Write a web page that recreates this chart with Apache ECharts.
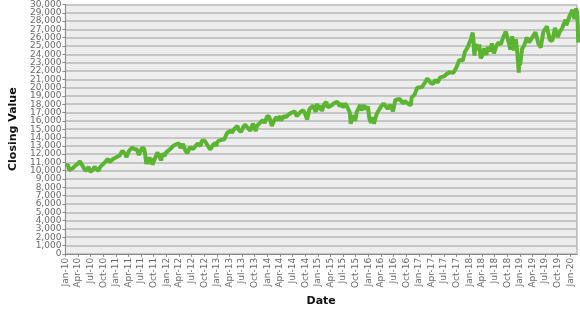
<!DOCTYPE html>
<html><head><meta charset="utf-8">
<script src="https://cdn.jsdelivr.net/npm/echarts@6/dist/echarts.min.js"></script>
<style>html,body{margin:0;padding:0;background:#fff}#c{width:580px;height:312px}</style>
</head><body><div id="c"></div>
<script>
var dates = [
"2010-01-04","2010-01-19","2010-01-29","2010-02-08","2010-02-25","2010-03-15","2010-03-31","2010-04-15","2010-04-26","2010-05-06","2010-05-07","2010-05-14","2010-05-25","2010-06-04","2010-06-18","2010-06-29","2010-07-02","2010-07-16","2010-07-30","2010-08-09","2010-08-26","2010-09-10","2010-09-30","2010-10-15","2010-10-29","2010-11-05","2010-11-16","2010-11-30","2010-12-15","2010-12-31",
"2011-01-14","2011-01-28","2011-02-18","2011-03-10","2011-03-16","2011-04-06","2011-04-18","2011-04-29","2011-05-13","2011-05-31","2011-06-15","2011-06-24","2011-07-07","2011-07-22","2011-07-29","2011-08-08","2011-08-10","2011-08-16","2011-08-19","2011-08-31","2011-09-12","2011-09-16","2011-09-22","2011-10-03","2011-10-14","2011-10-27","2011-11-08","2011-11-25","2011-11-30","2011-12-19","2011-12-30",
"2012-01-13","2012-01-31","2012-02-17","2012-02-29","2012-03-16","2012-04-02","2012-04-10","2012-04-30","2012-05-18","2012-06-01","2012-06-19","2012-06-28","2012-07-12","2012-07-31","2012-08-17","2012-09-04","2012-09-14","2012-10-05","2012-10-23","2012-11-15","2012-11-30","2012-12-18","2012-12-28",
"2013-01-02","2013-01-18","2013-01-31","2013-02-25","2013-03-14","2013-03-28","2013-04-11","2013-04-18","2013-05-03","2013-05-28","2013-06-05","2013-06-14","2013-06-24","2013-07-10","2013-07-22","2013-08-02","2013-08-30","2013-09-18","2013-10-08","2013-10-18","2013-11-08","2013-11-29","2013-12-12","2013-12-31",
"2014-01-15","2014-02-03","2014-02-21","2014-03-07","2014-03-14","2014-04-02","2014-04-11","2014-04-30","2014-05-15","2014-05-30","2014-06-20","2014-07-16","2014-07-31","2014-08-07","2014-08-29","2014-09-19","2014-10-01","2014-10-15","2014-10-31","2014-11-28","2014-12-16","2014-12-26",
"2015-01-06","2015-01-22","2015-01-30","2015-02-17","2015-03-02","2015-03-11","2015-03-31","2015-04-24","2015-05-19","2015-06-08","2015-06-22","2015-06-29","2015-07-17","2015-07-31","2015-08-14","2015-08-20","2015-08-25","2015-09-17","2015-09-28","2015-10-09","2015-11-03","2015-11-13","2015-12-01","2015-12-14","2015-12-29",
"2016-01-08","2016-01-20","2016-02-01","2016-02-11","2016-03-01","2016-03-31","2016-04-20","2016-05-19","2016-06-08","2016-06-27","2016-07-14","2016-08-15","2016-09-09","2016-09-22","2016-10-13","2016-11-04","2016-11-10","2016-11-30","2016-12-20","2016-12-30",
"2017-01-25","2017-02-15","2017-03-01","2017-03-27","2017-04-13","2017-04-28","2017-05-17","2017-06-02","2017-06-30","2017-07-26","2017-08-10","2017-08-18","2017-09-08","2017-09-29","2017-10-20","2017-11-15","2017-11-30","2017-12-18","2017-12-29",
"2018-01-12","2018-01-26","2018-02-02","2018-02-05","2018-02-08","2018-02-16","2018-02-27","2018-03-02","2018-03-12","2018-03-23","2018-04-02","2018-04-06","2018-04-18","2018-05-03","2018-05-14","2018-05-29","2018-06-12","2018-06-27","2018-07-17","2018-07-31","2018-08-15","2018-08-31","2018-09-21","2018-10-03","2018-10-10","2018-10-24","2018-10-29","2018-11-07","2018-11-20","2018-11-23","2018-12-03","2018-12-14","2018-12-24","2018-12-26","2018-12-31",
"2019-01-03","2019-01-18","2019-01-31","2019-02-22","2019-03-08","2019-03-22","2019-04-23","2019-05-13","2019-05-31","2019-06-20","2019-07-15","2019-08-05","2019-08-14","2019-08-23","2019-09-12","2019-10-02","2019-10-18","2019-10-31","2019-11-27","2019-12-03","2019-12-27",
"2020-01-03","2020-01-17","2020-01-31","2020-02-12","2020-02-21","2020-02-24","2020-02-28"
];
var closes = [
10584,10725,10067,9908,10321,10642,10857,11144,11205,10520,10380,10620,9975,9931,10450,9870,9686,10097,10466,10698,9985,10462,10788,11062,11118,11444,11023,11006,11457,11578,
11787,11824,12391,11984,11613,12426,12201,12810,12596,12570,11897,11934,12719,12681,12143,10810,10719,11405,10817,11614,11061,11509,10733,10655,11644,12208,12170,11231,12045,11766,12218,
12422,12633,12950,12952,13232,13264,12716,13214,12369,12118,12837,12602,12605,13009,13276,12967,13593,13610,13103,12542,13026,13350,12938,
13412,13649,13861,13784,14539,14579,14865,14537,14974,15409,14960,15070,14660,15291,15545,15658,14810,15677,14776,15399,15761,16086,15739,16577,
16481,15373,16104,16452,16065,16573,16027,16581,16447,16717,16948,17138,16563,16368,17098,17280,16805,16142,17391,17828,17068,18053,
17371,17813,17165,18047,18288,17635,17776,18080,18312,17766,18119,17596,18086,17690,17477,16990,15666,16675,16001,17084,17918,17245,17888,17368,17720,
16346,15766,16449,15660,16865,17685,18096,17435,17938,17140,18506,18636,18085,18392,18098,17888,18807,19124,19975,19763,
20069,20611,21115,20550,20453,20941,20607,21206,21350,21711,21844,21675,21798,22405,23329,23271,24272,24792,24719,
25803,26617,25521,24346,23860,25219,25410,24538,25179,23533,23644,23933,24748,23930,24900,24362,25320,24117,25120,25415,25162,25965,26744,26828,25598,24583,24443,26180,24465,24286,25826,24100,21792,22878,23327,
22686,24706,24999,26031,25450,25502,26656,25324,24815,26753,27359,25718,25479,25628,27182,26078,26770,27046,28164,27503,28645,
28635,29348,28256,29551,28992,27961,25409
];
var monthNames = ["Jan","Feb","Mar","Apr","May","Jun","Jul","Aug","Sep","Oct","Nov","Dec"];
var startYear = 2010;
var yMin = 0, yMax = 30000, yStep = 1000;

function toMonths(s){
  var p = s.split("-");
  return (parseInt(p[0],10)-startYear)*12 + (parseInt(p[1],10)-1) + (parseInt(p[2],10)-1)/30.5;
}
var seriesData = dates.map(function(d,i){ return [toMonths(d), closes[i]]; });

function fmt(v){ return v.toLocaleString('en-US'); }
function isNearEnd(v){ return v === yMin + yStep || v === yMax - yStep; }

var chart = echarts.init(document.getElementById('c'), null, {renderer:'canvas'});
var font = 'DejaVu Sans';
var yLabelBase = {margin:4,fontFamily:font,fontSize:9,color:'#6a6a6a',hideOverlap:false};
chart.setOption({
  animation:false,
  grid:{left:57,right:3,top:4,bottom:47,show:true,backgroundColor:'#ededed',borderColor:'#9a9a9a',borderWidth:1},
  xAxis:{
    type:'value',min:0,max:121.6,interval:3,
    name:'Date',nameLocation:'middle',nameGap:38,
    nameTextStyle:{fontFamily:font,fontWeight:'bold',fontSize:11,color:'#111'},
    axisLine:{show:true,lineStyle:{color:'#888',width:1}},
    axisTick:{show:true,length:3,lineStyle:{color:'#888'}},
    splitLine:{show:false},
    axisLabel:{rotate:90,margin:4,fontFamily:font,fontSize:9,color:'#6a6a6a',showMinLabel:true,showMaxLabel:false,hideOverlap:false,
      formatter:function(v){ var m=Math.round(v); var y=startYear+Math.floor(m/12); return monthNames[m%12]+'-'+String(y).slice(2); }}
  },
  yAxis:[{
    type:'value',min:yMin,max:yMax,interval:yStep,position:'left',
    name:'Closing Value',nameLocation:'middle',nameGap:42,
    nameTextStyle:{fontFamily:font,fontWeight:'bold',fontSize:11,color:'#111'},
    axisLine:{show:true,lineStyle:{color:'#888',width:1}},
    axisTick:{show:true,length:3,lineStyle:{color:'#888'}},
    splitLine:{show:true,lineStyle:{color:'#c6c6c6',width:2}},
    axisLabel:Object.assign({showMinLabel:true,showMaxLabel:true,
      formatter:function(v){ return isNearEnd(v) ? '' : fmt(v); }}, yLabelBase)
  },{
    type:'value',min:yMin,max:yMax,interval:yStep,position:'left',offset:0,
    axisLine:{show:false},axisTick:{show:false},splitLine:{show:false},
    axisLabel:Object.assign({showMinLabel:true,showMaxLabel:true,
      formatter:function(v){ return isNearEnd(v) ? fmt(v) : ''; }}, yLabelBase)
  }],
  series:[{type:'line',yAxisIndex:0,data:seriesData,showSymbol:false,lineStyle:{color:'#5cb532',width:4},itemStyle:{color:'#5cb532'}}]
});
</script></body></html>
